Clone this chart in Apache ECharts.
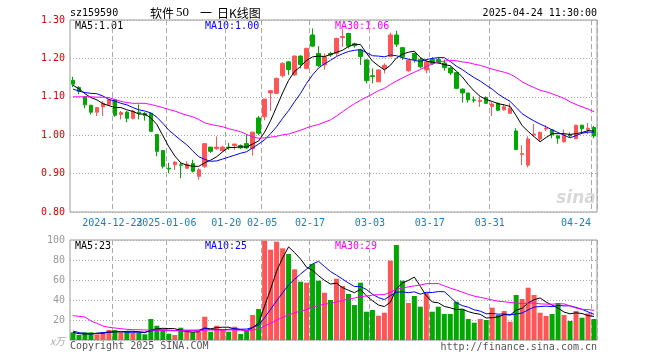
<!DOCTYPE html>
<html><head><meta charset="utf-8">
<script src="https://cdn.jsdelivr.net/npm/echarts@6/dist/echarts.min.js"></script>
<style>html,body{margin:0;padding:0;background:#fff}#c{width:660px;height:360px}</style>
</head><body><div id="c"></div>
<script>
const dates = [
'2024-12-12','2024-12-13','2024-12-16','2024-12-17','2024-12-18','2024-12-19','2024-12-20','2024-12-23','2024-12-24','2024-12-25',
'2024-12-26','2024-12-27','2024-12-30','2024-12-31','2025-01-02','2025-01-03','2025-01-06','2025-01-07','2025-01-08','2025-01-09',
'2025-01-10','2025-01-13','2025-01-14','2025-01-15','2025-01-16','2025-01-17','2025-01-20','2025-01-21','2025-01-22','2025-01-23',
'2025-01-24','2025-01-27','2025-02-05','2025-02-06','2025-02-07','2025-02-10','2025-02-11','2025-02-12','2025-02-13','2025-02-14',
'2025-02-17','2025-02-18','2025-02-19','2025-02-20','2025-02-21','2025-02-24','2025-02-25','2025-02-26','2025-02-27','2025-02-28',
'2025-03-03','2025-03-04','2025-03-05','2025-03-06','2025-03-07','2025-03-10','2025-03-11','2025-03-12','2025-03-13','2025-03-14',
'2025-03-17','2025-03-18','2025-03-19','2025-03-20','2025-03-21','2025-03-24','2025-03-25','2025-03-26','2025-03-27','2025-03-28',
'2025-03-31','2025-04-01','2025-04-02','2025-04-03','2025-04-07','2025-04-08','2025-04-09','2025-04-10','2025-04-11','2025-04-14',
'2025-04-15','2025-04-16','2025-04-17','2025-04-18','2025-04-21','2025-04-22','2025-04-23','2025-04-24'];

const open = [
1.143,1.124,1.100,1.078,1.060,1.074,1.079,1.092,1.054,1.060,
1.044,1.060,1.057,1.057,1.002,0.960,0.914,0.923,0.923,0.914,
0.926,0.893,0.919,0.969,0.965,0.960,0.969,0.973,0.973,0.978,
0.965,1.045,1.048,1.110,1.109,1.155,1.191,1.157,1.206,1.174,
1.261,1.213,1.183,1.213,1.213,1.254,1.265,1.238,1.222,1.196,
1.155,1.139,1.174,1.205,1.261,1.228,1.168,1.213,1.197,1.170,
1.197,1.197,1.188,1.175,1.163,1.120,1.110,1.092,1.088,1.098,
1.075,1.083,1.066,1.057,1.011,0.950,0.922,1.001,0.990,1.016,
1.014,0.998,0.983,1.001,0.991,1.026,1.015,1.020];
const close = [
1.133,1.114,1.079,1.060,1.072,1.083,1.092,1.052,1.059,1.044,
1.063,1.057,1.051,1.010,0.958,0.919,0.912,0.930,0.922,0.925,
0.906,0.910,0.978,0.958,0.969,0.969,0.967,0.977,0.967,0.967,
1.008,1.005,1.094,1.116,1.148,1.187,1.171,1.206,1.184,1.226,
1.232,1.181,1.204,1.209,1.252,1.257,1.232,1.233,1.205,1.142,
1.153,1.170,1.182,1.261,1.237,1.204,1.195,1.197,1.178,1.191,
1.187,1.189,1.176,1.162,1.122,1.110,1.092,1.091,1.091,1.083,
1.081,1.065,1.074,1.070,0.963,0.952,0.990,1.003,1.007,1.018,
1.001,0.992,1.001,0.998,1.026,1.017,1.018,0.998];
const low = [
1.125,1.107,1.070,1.054,1.050,1.050,1.076,1.048,1.041,1.034,
1.041,1.041,1.038,1.008,0.945,0.913,0.901,0.909,0.888,0.912,
0.903,0.884,0.914,0.954,0.962,0.958,0.962,0.962,0.964,0.964,
0.947,1.000,1.039,1.063,1.107,1.150,1.157,1.155,1.174,1.172,
1.230,1.178,1.171,1.204,1.206,1.230,1.226,1.228,1.183,1.135,
1.135,1.139,1.161,1.203,1.230,1.196,1.165,1.189,1.174,1.161,
1.183,1.187,1.168,1.157,1.120,1.085,1.085,1.085,1.074,1.081,
1.050,1.063,1.064,1.057,0.961,0.922,0.916,0.997,0.985,1.011,
0.992,0.978,0.981,0.994,0.990,1.007,1.003,0.992];
const high = [
1.152,1.128,1.101,1.079,1.072,1.089,1.093,1.093,1.063,1.063,
1.066,1.080,1.060,1.057,1.002,0.960,0.928,0.932,0.928,0.932,
0.936,0.914,0.978,0.969,0.997,0.973,0.980,0.977,0.976,1.002,
1.008,1.050,1.094,1.117,1.150,1.190,1.193,1.208,1.208,1.228,
1.278,1.232,1.213,1.217,1.254,1.276,1.267,1.241,1.225,1.198,
1.174,1.171,1.187,1.267,1.272,1.230,1.196,1.215,1.203,1.197,
1.203,1.204,1.197,1.179,1.165,1.122,1.110,1.101,1.101,1.101,
1.087,1.085,1.081,1.083,1.018,0.974,0.997,1.029,1.010,1.026,
1.016,1.000,1.015,1.007,1.027,1.027,1.032,1.024];
const ma5 = [
1.130,1.121,1.108,1.098,1.092,1.082,1.077,1.072,1.072,1.066,
1.062,1.055,1.055,1.045,1.028,0.999,0.970,0.946,0.928,0.922,
0.919,0.919,0.928,0.935,0.944,0.957,0.968,0.968,0.970,0.969,
0.977,0.985,1.008,1.038,1.074,1.110,1.143,1.166,1.179,1.195,
1.204,1.206,1.205,1.210,1.216,1.221,1.231,1.237,1.236,1.214,
1.193,1.181,1.170,1.182,1.201,1.211,1.216,1.219,1.202,1.193,
1.190,1.188,1.184,1.181,1.167,1.152,1.132,1.115,1.101,1.093,
1.088,1.082,1.079,1.075,1.051,1.025,1.010,0.996,0.983,0.994,
1.004,1.004,1.004,1.002,1.004,1.007,1.012,1.011];
const ma10 = [
1.120,1.115,1.111,1.109,1.108,1.102,1.093,1.089,1.083,1.079,
1.072,1.066,1.063,1.058,1.047,1.031,1.013,1.000,0.987,0.975,
0.959,0.944,0.937,0.932,0.933,0.938,0.943,0.948,0.953,0.957,
0.967,0.977,0.988,1.004,1.022,1.044,1.064,1.087,1.109,1.135,
1.157,1.175,1.186,1.195,1.205,1.212,1.218,1.221,1.223,1.215,
1.207,1.206,1.204,1.209,1.207,1.202,1.198,1.195,1.192,1.197,
1.200,1.202,1.202,1.192,1.180,1.171,1.160,1.150,1.141,1.130,
1.120,1.107,1.097,1.088,1.072,1.056,1.046,1.037,1.029,1.022,
1.014,1.007,1.000,0.993,0.999,1.005,1.008,1.008];
const ma30 = [
1.100,1.100,1.100,1.100,1.099,1.099,1.098,1.093,1.088,1.085,
1.083,1.083,1.083,1.080,1.076,1.072,1.067,1.063,1.057,1.052,
1.048,1.041,1.032,1.028,1.025,1.022,1.017,1.013,1.009,1.002,
0.996,0.992,0.993,0.995,0.997,1.001,1.003,1.008,1.013,1.019,
1.024,1.028,1.034,1.040,1.050,1.061,1.072,1.082,1.091,1.099,
1.107,1.116,1.122,1.132,1.141,1.149,1.157,1.164,1.171,1.179,
1.185,1.191,1.193,1.195,1.194,1.191,1.189,1.185,1.182,1.177,
1.172,1.168,1.164,1.159,1.150,1.139,1.131,1.124,1.117,1.113,
1.108,1.102,1.096,1.087,1.080,1.074,1.068,1.061];
const volume = [
7.7,5,7.7,7.7,5.7,7.7,10,10,7.7,8.3,
7.3,7.7,5.7,21,14.3,10,6.3,5,12.3,8.3,
7.7,8.3,23.3,8.3,14.3,10,8.3,13.3,6,9,
25,31,99.3,90.3,98.3,91.7,86,70.7,58.3,57.3,
76,59.3,47.3,40,61.3,54,46,35,57.3,28.3,
30,24.3,27.3,79.3,95,59.3,37,44,33.3,47.3,
28.3,33.3,26,26,38.3,30.7,21,17.3,21,20,
32.3,25,29,18.3,45,41,52.3,45,27.3,24,
26,37,25,19,29,22.3,26.7,21];
const volMa5 = [
7.7,6.3,6.0,6.2,6.8,6.8,7.8,8.2,8.2,8.7,
8.7,8.2,7.3,10.0,11.2,11.7,11.5,11.3,9.6,8.4,
7.9,8.3,12.0,11.2,12.4,12.8,12.8,10.8,10.4,9.3,
12.3,16.9,34.1,50.9,68.8,82.1,93.1,87.4,81.0,72.8,
69.7,64.3,59.6,56.0,56.8,52.4,49.7,47.3,50.7,44.1,
39.3,35.0,33.4,37.8,51.2,57.0,59.6,62.9,53.7,44.2,
38.0,37.2,33.6,32.2,30.4,30.9,28.4,26.7,25.7,22.0,
22.3,23.1,25.5,24.9,29.9,31.7,37.1,40.3,42.1,37.9,
34.9,31.9,27.9,26.2,27.2,26.5,24.4,23.6];
const volMa10 = [
9.0,7.3,6.7,6.0,6.7,7.3,8.0,8.3,8.3,7.8,
7.7,8.0,7.8,9.1,10.0,10.2,9.8,9.3,9.8,9.8,
9.8,9.9,11.7,10.4,10.4,10.4,10.6,11.4,10.8,10.9,
12.6,14.9,22.5,30.7,39.1,47.2,55.0,60.7,66.0,70.8,
75.9,78.7,73.5,68.5,64.8,61.0,57.0,53.5,53.4,50.5,
45.9,42.4,40.4,44.3,47.7,48.2,47.3,48.2,45.8,47.7,
47.5,48.4,48.3,43.0,37.3,34.4,32.8,30.2,28.9,26.2,
26.6,25.8,26.1,25.3,26.0,27.0,30.1,32.9,33.5,33.9,
33.3,34.5,34.1,34.2,32.6,30.7,28.1,25.7];
const volMa30 = [
24.3,23.7,23.0,19.0,16.7,14.0,12.7,12.0,11.3,10.7,
10.3,10.3,10.0,10.0,9.7,9.7,9.3,9.3,9.3,9.3,
9.3,9.3,9.7,10.0,10.0,10.0,10.0,10.0,9.8,9.5,
10.0,10.9,14.0,16.7,19.8,22.6,25.1,27.2,28.8,30.5,
32.8,34.5,35.9,36.5,38.1,39.5,40.9,41.9,43.4,44.0,
44.8,45.3,45.4,47.8,50.5,52.1,53.1,54.1,55.0,56.3,
56.4,56.5,54.1,51.9,49.9,47.9,45.7,43.9,42.7,41.4,
40.0,38.8,38.2,37.5,37.0,36.5,36.7,37.1,36.1,35.9,
35.8,36.2,36.1,34.1,31.9,30.7,30.4,29.6];
const labelDates = ['2024-12-23','2025-01-06','2025-01-20','2025-02-05','2025-02-17','2025-03-03','2025-03-17','2025-03-31','2025-04-24'];
const tickLabels = ['2024-12-23','2025-01-06','01-20','02-05','02-17','03-03','03-17','03-31','04-24'];

const RED = '#ff5555', GREEN = '#00a800', DATE_BLUE = '#1a7fc4';
const MONO = '"DejaVu Sans Mono", monospace';
const FONT = '10px "DejaVu Sans Mono", monospace';
const CJK = '12px "Noto Sans CJK SC", sans-serif';
const isGrid = (i, v) => labelDates.indexOf(v) >= 0;
const isAxisLabel = (i, v) => { const k = labelDates.indexOf(v); return k > 0 && k < labelDates.length - 1; };
const trunc2 = v => (Math.floor(v * 100 + 1e-9) / 100).toFixed(2);
const truncI = v => String(Math.floor(v + 1e-9));
const last = a => a[a.length - 1];

function txt(x, y, s, color, align, font) {
  return { type: 'text', x: x, y: y, silent: true,
    style: { text: s, fill: color, font: font || FONT, align: align || 'left', verticalAlign: 'middle',
             textAlign: align || 'left', textVerticalAlign: 'middle' } };
}

const chart = echarts.init(document.getElementById('c'), null, { renderer: 'canvas' });
const vSplit = { show: true, interval: isGrid, lineStyle: { color: '#aaa', type: [5, 3], width: 1 } };
const hSplit = { show: true, lineStyle: { color: '#aaa', type: [1, 2], width: 1 } };
const lineS = (name, data, color, xi, yi) => ({ name: name, type: 'line', data: data, xAxisIndex: xi, yAxisIndex: yi,
  symbol: 'none', silent: true, lineStyle: { color: color, width: 1 }, itemStyle: { color: color }, z: 5 });

const graphics = [
  txt(70, 13, 'sz159590', '#000'),
  txt(150, 13, '软件', '#000', 'left', CJK),
  txt(176, 13, '50', '#000', 'left', '13px "Liberation Serif", serif'),
  txt(200, 13, '一', '#000', 'left', CJK),
  txt(217, 13, '日K线图', '#000', 'left', CJK),
  txt(597, 13, '2025-04-24 11:30:00', '#000', 'right'),
  txt(75, 26, 'MA5:' + trunc2(last(ma5)), '#000'),
  txt(205, 26, 'MA10:' + trunc2(last(ma10)), '#0000ff'),
  txt(335, 26, 'MA30:' + trunc2(last(ma30)), '#ff00ff'),
  txt(75, 246, 'MA5:' + truncI(last(volMa5)), '#000'),
  txt(205, 246, 'MA10:' + truncI(last(volMa10)), '#0000ff'),
  txt(335, 246, 'MA30:' + truncI(last(volMa30)), '#ff00ff'),
  txt(65, 341, 'x万', '#aaa', 'right', 'italic 10px "Noto Sans CJK SC", sans-serif'),
  txt(70, 346, 'Copyright 2025 SINA.COM', '#555'),
  txt(597, 347, 'http://finance.sina.com.cn', '#555', 'right'),
  txt(576, 199, 'sina', '#d8d8d8', 'center', 'italic bold 17px "DejaVu Sans", sans-serif')
];

chart.setOption({
  animation: false,
  backgroundColor: '#fff',
  grid: [
    { left: 70, top: 20, width: 527, height: 192, show: true, borderColor: '#999', borderWidth: 1 },
    { left: 70, top: 240, width: 527, height: 100, show: true, borderColor: '#999', borderWidth: 1 }
  ],
  xAxis: [
    { type: 'category', gridIndex: 0, data: dates, boundaryGap: true,
      axisLine: { show: false }, axisTick: { show: false },
      axisLabel: { interval: isAxisLabel, hideOverlap: false, color: DATE_BLUE, fontFamily: MONO, fontSize: 10, margin: 6,
        padding: [0, 5, 0, 0],
        formatter: v => tickLabels[labelDates.indexOf(v)] },
      splitLine: vSplit },
    { type: 'category', gridIndex: 1, data: dates, boundaryGap: true,
      axisLine: { show: false }, axisTick: { show: false }, axisLabel: { show: false },
      splitLine: vSplit }
  ],
  yAxis: [
    { type: 'value', gridIndex: 0, min: 0.8, max: 1.3, interval: 0.1, scale: true,
      axisLine: { show: false }, axisTick: { show: false },
      axisLabel: { color: '#e00000', fontFamily: MONO, fontSize: 10, margin: 5, formatter: v => v.toFixed(2) },
      splitLine: hSplit },
    { type: 'value', gridIndex: 1, min: 0, max: 100, interval: 20,
      axisLine: { show: false }, axisTick: { show: false },
      axisLabel: { color: '#999', fontFamily: MONO, fontSize: 10, margin: 5, formatter: v => v === 0 ? '' : String(v) },
      splitLine: hSplit }
  ],
  series: [
    { type: 'candlestick', xAxisIndex: 0, yAxisIndex: 0, barWidth: 4, silent: true,
      data: dates.map((d, i) => [open[i], close[i], low[i], high[i]]),
      itemStyle: { color: RED, color0: GREEN, borderColor: RED, borderColor0: GREEN, borderWidth: 1 } },
    lineS('MA5', ma5, '#000000', 0, 0),
    lineS('MA10', ma10, '#0000ff', 0, 0),
    lineS('MA30', ma30, '#ff00ff', 0, 0),
    { type: 'bar', xAxisIndex: 1, yAxisIndex: 1, barWidth: 5, silent: true,
      data: volume.map((v, i) => ({ value: v, itemStyle: { color: close[i] >= open[i] ? RED : GREEN } })) },
    lineS('VMA5', volMa5, '#000000', 1, 1),
    lineS('VMA10', volMa10, '#0000ff', 1, 1),
    lineS('VMA30', volMa30, '#ff00ff', 1, 1)
  ],
  graphic: graphics
});

// first date label overlaps the next one and the last one is kept inside the frame,
// so both are placed from their category positions
const labelY = chart.convertToPixel({ yAxisIndex: 0 }, 0.8) + 11;
const firstX = chart.convertToPixel({ xAxisIndex: 0 }, labelDates[0]);
const lastX = chart.convertToPixel({ xAxisIndex: 0 }, labelDates[labelDates.length - 1]);
graphics.push(txt(firstX - 2.5, labelY, tickLabels[0], DATE_BLUE, 'center'));
graphics.push(txt(lastX - 3, labelY, tickLabels[tickLabels.length - 1], DATE_BLUE, 'right'));
chart.setOption({ graphic: graphics });
</script></body></html>
